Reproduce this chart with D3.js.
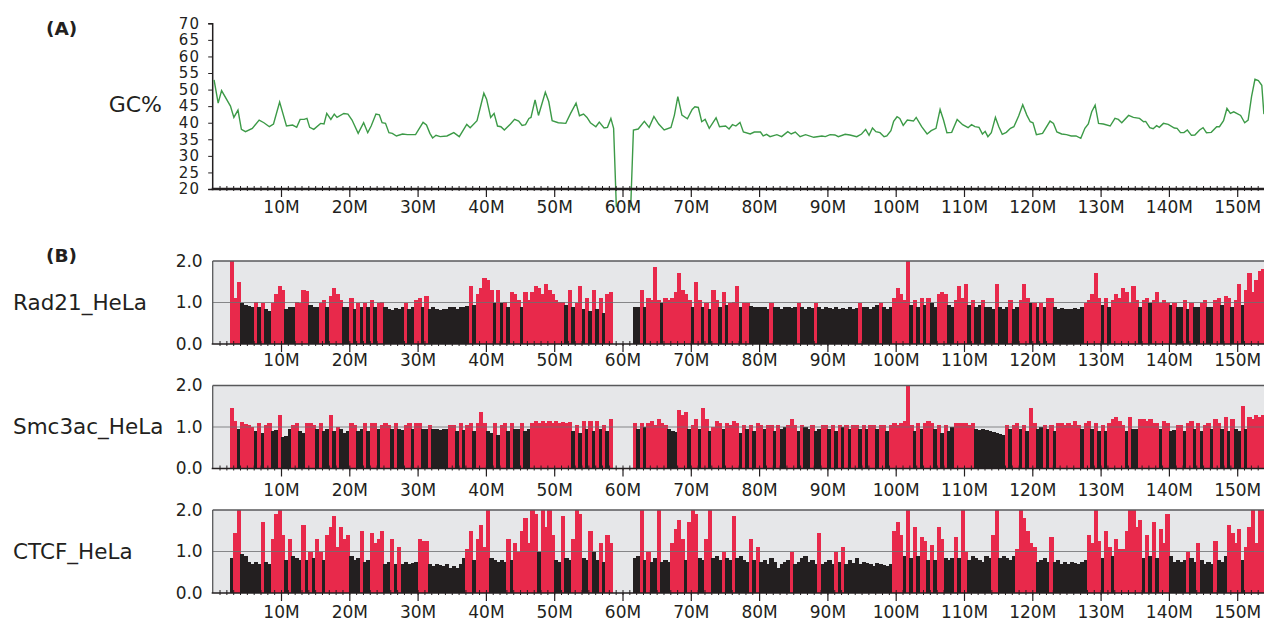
<!DOCTYPE html>
<html><head><meta charset="utf-8">
<script src="https://cdn.jsdelivr.net/npm/d3@7"></script>
<style>
body{margin:0;background:#fff}
svg{display:block}
text{font-family:"DejaVu Sans",sans-serif;fill:#231f20}
</style>
</head><body>
<svg id="c" width="1264" height="622"></svg>
<script>
// ---------- DATA ----------
const xTicks = [10,20,30,40,50,60,70,80,90,100,110,120,130,140,150];
const gcTicks = [20,25,30,35,40,45,50,55,60,65,70];
const trackTicks = [0,1,2];
const trackNames = ["Rad21_HeLa","Smc3ac_HeLa","CTCF_HeLa"];

// GC% line (position in Mb, value in %)
const gcPos = [0.2,0.8,1.3,2.6,3.1,3.7,4.2,4.8,5.8,6.8,7.5,8.3,8.9,9.8,10.8,11.7,12.3,12.8,13.4,13.8,14.2,14.8,15.8,16.3,16.7,17.3,17.8,18.2,19.2,19.8,
20.4,21.3,22.1,22.7,23.2,23.9,24.4,24.8,25.3,25.8,26.3,26.9,27.8,28.5,29.7,30.8,31.3,31.8,32.2,32.7,33.3,34.3,35.3,36.1,37.2,37.7,38.7,39.7,40.1,40.7,
41.2,41.7,42.2,42.7,43.6,44.2,44.8,45.3,45.8,46.3,46.6,47.2,47.7,48.7,49.2,49.7,50.6,51.7,52.4,53.2,53.7,54.3,54.8,55.3,56.1,56.6,57.3,57.8,58.3,58.7,
59.1,60.0,61.2,61.6,62.3,63.2,63.9,64.6,65.3,66.1,67.1,67.6,68.1,68.7,69.5,70.2,70.6,71.1,71.6,72.1,72.7,73.7,74.2,75.1,75.6,76.1,76.6,77.2,77.7,78.7,
79.3,80.2,80.6,81.1,81.6,82.6,83.3,84.2,84.7,85.3,86.0,86.8,88.0,89.2,89.7,90.4,91.1,91.6,92.6,93.3,94.3,95.0,95.6,96.1,96.6,97.1,97.7,98.3,98.7,99.3,
99.7,100.2,100.6,101.1,101.7,102.6,103.0,103.8,104.6,105.2,105.9,106.5,107.0,107.5,108.2,109.0,109.8,110.6,111.1,111.6,112.2,112.7,113.1,113.5,114.0,114.6,115.1,115.6,116.2,116.8,
117.3,118.0,118.6,119.2,119.7,120.1,120.6,121.5,122.6,123.1,123.6,124.3,125.0,125.7,126.4,127.1,127.7,128.2,128.7,129.2,129.7,130.4,131.4,132.1,132.6,133.1,134.1,134.8,135.7,136.3,
136.6,137.2,137.7,138.2,138.6,139.2,139.9,140.8,141.2,141.7,142.2,142.7,143.3,143.8,144.5,145.0,145.5,146.2,147.0,147.4,148.0,148.5,149.0,149.5,150.5,151.1,151.6,152.1,152.6,153.1,
153.6,153.9,155.0];
const gcVal = [52.9,45.9,49.7,45.0,41.6,43.8,38.0,37.3,38.3,40.8,40.0,38.8,39.6,46.2,39.0,39.3,38.6,41.0,41.0,41.3,38.6,38.0,39.8,39.6,42.8,41.0,42.6,41.6,42.8,42.6,
40.8,36.8,40.0,37.0,39.0,42.6,42.4,40.0,39.8,37.0,36.8,36.0,36.6,36.4,36.4,40.1,39.3,36.8,35.4,36.2,35.8,36.0,37.0,35.8,39.5,38.5,40.6,48.9,47.1,41.6,
42.8,39.0,38.8,37.8,39.6,41.0,40.5,39.2,39.4,41.3,41.6,46.9,42.2,49.2,46.4,40.6,40.0,39.8,42.8,45.9,42.1,42.6,41.6,40.0,38.8,40.2,38.4,38.6,41.3,38.3,
14.5,null,14.5,37.8,38.1,40.4,38.6,41.9,39.6,37.8,38.6,42.3,47.9,42.3,41.2,44.0,44.8,44.6,40.3,41.0,38.3,41.5,38.8,39.0,38.1,39.4,39.0,40.1,37.2,36.6,
37.2,37.2,36.0,36.5,35.8,36.4,35.8,37.3,36.6,37.2,35.8,36.4,35.6,36.0,35.8,36.4,36.3,35.8,36.5,36.3,35.8,36.6,38.0,36.2,38.4,37.3,37.0,35.8,36.0,37.6,
40.4,41.8,41.3,39.2,40.8,40.5,41.6,38.8,36.6,37.6,38.3,44.0,40.8,37.0,37.1,41.0,39.4,38.5,39.4,38.8,38.6,36.6,37.4,35.8,37.0,41.6,38.8,36.5,37.1,38.3,
38.8,42.0,45.4,42.3,40.3,40.0,36.4,36.8,40.5,39.8,37.2,36.6,36.4,36.0,36.0,35.3,38.3,39.6,43.3,45.3,39.8,39.6,39.0,41.3,41.0,40.0,42.2,41.6,41.3,40.3,
40.4,38.5,38.2,39.1,38.6,39.8,39.5,38.4,38.3,37.0,37.0,37.8,36.2,36.3,37.8,38.5,37.0,37.1,38.8,38.8,40.6,44.3,42.8,43.3,42.2,40.0,40.8,47.9,53.1,52.7,
51.3,42.8,41.0];

// Enrichment tracks: 0.5 Mb bins starting at 2.5 Mb (null = no data)
const binStart = 2.5, binSize = 0.5;
const rad21 = [2.0,1.1,1.5,0.98,0.95,
0.92,0.9,1.02,0.88,1.0,0.85,0.8,1.0,1.2,1.4,
1.3,0.85,0.9,0.9,1.02,1.0,1.3,1.28,0.95,0.9,
0.88,1.0,1.05,0.9,1.15,1.35,1.2,1.05,0.88,0.9,
1.1,0.85,1.0,0.9,1.0,0.9,1.05,0.88,1.0,1.02,
0.88,0.85,0.82,0.86,0.85,0.88,1.0,0.85,0.9,1.05,
1.1,0.9,1.15,0.85,0.88,0.85,0.82,0.85,0.85,0.88,
0.88,0.85,0.9,0.88,0.92,1.4,0.95,1.2,1.35,1.6,
1.55,1.3,0.98,1.3,1.0,1.02,0.9,1.25,1.2,1.05,
0.9,1.25,1.05,1.25,1.4,1.35,1.2,1.45,1.3,1.2,
1.05,1.02,1.02,0.95,1.3,0.9,1.0,1.4,0.85,1.1,
0.8,1.3,0.85,1.1,0.75,1.2,1.25,null,null,null,
null,null,null,0.9,0.88,1.3,0.9,1.1,1.05,1.85,
1.05,1.0,1.1,1.05,1.1,1.25,1.7,1.3,1.2,1.05,
0.9,1.5,1.05,0.9,1.0,0.85,1.3,1.05,0.9,1.25,
0.95,1.0,1.02,1.4,0.9,1.0,1.0,0.92,0.9,0.88,
0.88,0.9,0.85,1.0,0.88,0.9,0.85,0.88,0.9,0.86,
0.88,1.0,0.9,0.85,0.88,0.86,1.0,0.9,0.85,0.88,
0.86,0.85,0.88,0.84,0.86,0.85,0.88,0.85,0.87,1.0,
0.9,0.88,0.85,0.9,0.95,1.0,0.88,0.85,0.9,1.1,
1.35,1.2,1.05,2.0,0.95,1.05,0.9,1.1,0.95,1.1,
1.0,0.9,1.2,1.25,1.2,0.95,0.9,1.05,1.4,1.1,
1.45,0.95,1.05,0.9,0.95,1.05,0.9,0.88,0.85,1.45,
0.88,0.85,0.9,1.05,0.85,0.88,1.05,1.45,1.1,1.0,
1.0,0.9,1.0,0.88,1.1,1.1,0.9,0.85,0.86,0.85,
0.85,0.84,0.86,0.85,0.88,1.0,1.05,1.2,1.7,1.1,
0.95,1.1,0.9,1.05,1.2,1.1,1.35,1.25,1.0,1.4,
1.05,0.9,1.05,1.1,1.0,1.05,1.25,1.0,1.05,1.0,
0.95,1.0,0.88,0.9,1.05,0.85,1.0,0.88,0.9,1.0,
1.05,0.88,0.9,1.05,1.1,0.95,1.15,1.1,0.9,1.05,
1.45,0.95,1.3,1.7,1.25,1.55,1.75,1.8,1.2,1.3];
const rad21Red = [1,1,1,0,0,
0,0,1,0,1,0,0,1,1,1,
1,0,0,0,1,1,1,1,0,0,
0,1,1,0,1,1,1,1,0,0,
1,0,1,0,1,0,1,0,1,1,
0,0,0,0,0,0,1,0,0,1,
1,0,1,0,0,0,0,0,0,0,
0,0,0,0,0,1,0,1,1,1,
1,1,0,1,0,1,0,1,1,1,
0,1,1,1,1,1,1,1,1,1,
1,1,1,0,1,0,1,1,0,1,
0,1,0,1,0,1,1,0,0,0,
0,0,0,0,0,1,0,1,1,1,
1,0,1,1,1,1,1,1,1,1,
0,1,1,0,1,0,1,1,0,1,
0,1,1,1,0,1,1,0,0,0,
0,0,0,1,0,0,0,0,0,0,
0,1,0,0,0,0,1,0,0,0,
0,0,0,0,0,0,0,0,0,1,
0,0,0,0,0,1,0,0,0,1,
1,1,1,1,0,1,0,1,0,1,
0,0,1,1,1,0,0,1,1,1,
1,0,1,0,0,1,0,0,0,1,
0,0,0,1,0,0,1,1,1,0,
1,0,1,0,1,1,0,0,0,0,
0,0,0,0,0,1,1,1,1,1,
0,1,0,1,1,1,1,1,1,1,
1,0,1,1,0,1,1,1,1,1,
0,1,0,0,1,0,1,0,0,1,
1,0,0,1,1,0,1,1,0,1,
1,0,1,1,1,1,1,1,1,1];

const smc3ac = [1.45,1.15,0.95,1.12,1.08,
1.05,1.0,0.9,1.1,0.85,1.05,1.1,0.9,0.92,1.3,
0.75,0.78,0.95,1.05,1.1,0.9,0.85,1.1,1.1,1.05,
0.95,1.1,0.9,0.95,1.3,0.9,1.0,0.95,0.85,0.9,
1.1,1.05,0.9,0.95,1.1,0.9,1.1,1.1,0.95,1.05,
1.1,1.05,0.95,1.1,0.95,0.92,1.05,1.1,0.95,1.1,
1.1,0.95,0.95,1.05,0.95,0.95,0.92,0.95,0.95,1.05,
1.05,0.9,1.1,0.92,1.05,1.1,0.9,1.1,1.35,1.1,
0.9,0.85,1.1,0.8,1.05,1.1,0.9,1.1,0.95,0.95,
1.1,0.9,0.95,1.1,1.15,1.1,1.15,1.1,1.15,1.1,
1.15,1.1,1.12,1.1,1.12,0.9,1.05,0.85,1.15,0.95,
1.15,0.9,1.15,0.95,1.05,0.9,1.2,null,null,null,
null,null,null,1.1,0.95,1.1,1.0,1.1,1.15,1.05,
1.2,1.1,1.05,0.95,0.9,0.88,1.4,1.3,1.35,0.95,
1.05,1.2,0.95,1.45,1.2,0.9,1.0,1.15,1.1,0.95,
1.1,1.05,1.15,1.1,0.85,1.05,0.95,1.05,0.9,1.1,
1.05,0.95,1.05,1.05,0.9,1.05,0.95,1.0,1.05,1.2,
1.05,0.9,1.05,1.0,0.95,1.05,0.9,0.95,1.05,1.05,
0.95,1.05,0.9,1.05,1.0,1.05,0.95,1.05,1.05,0.95,
1.05,0.95,1.05,1.05,0.95,1.05,1.05,0.9,1.05,1.1,
1.05,1.1,1.15,2.0,1.05,0.9,1.1,0.95,1.1,1.15,
1.1,0.95,1.05,0.85,1.05,0.9,1.0,1.1,1.1,1.1,
1.1,1.05,1.1,0.95,0.92,0.95,0.92,0.9,0.88,0.85,
0.82,0.8,1.05,0.95,1.05,1.1,0.95,1.05,0.9,1.45,
1.1,0.95,1.0,1.05,0.95,1.05,0.9,1.1,1.1,1.05,
1.1,1.05,1.15,1.05,0.95,1.1,1.15,0.95,1.1,0.9,
1.05,0.9,1.1,1.2,1.25,1.15,1.05,0.9,1.25,0.95,
0.95,1.2,1.2,1.15,1.2,1.1,1.1,0.95,1.15,1.1,
0.9,0.92,1.05,1.05,0.9,1.1,1.15,0.95,1.1,0.9,
1.05,1.1,0.95,1.2,1.1,0.95,1.25,0.9,1.2,0.95,
0.9,1.5,0.95,1.25,1.2,1.3,1.25,1.3,1.0,1.0];
const smc3acRed = [1,1,0,1,1,
1,1,0,1,0,1,1,0,0,1,
0,0,0,1,1,0,0,1,1,1,
0,1,0,0,1,0,1,0,0,0,
1,1,0,0,1,0,1,1,0,1,
1,1,0,1,0,0,1,1,0,1,
1,0,0,1,0,0,0,0,0,1,
1,0,1,0,1,1,0,1,1,1,
0,0,1,0,1,1,0,1,0,0,
1,0,0,1,1,1,1,1,1,1,
1,1,1,1,1,0,1,0,1,0,
1,0,1,0,1,0,1,0,0,0,
0,0,0,1,0,1,0,1,1,1,
1,1,1,0,0,0,1,1,1,0,
1,1,0,1,1,0,1,1,1,0,
1,1,1,1,0,1,0,1,0,1,
1,0,1,1,0,1,0,0,1,1,
1,0,1,0,0,1,0,0,1,1,
0,1,0,1,0,1,0,1,1,0,
1,0,1,1,0,1,1,0,1,1,
1,1,1,1,1,0,1,0,1,1,
1,0,1,0,1,0,0,1,1,1,
1,1,1,0,0,0,0,0,0,0,
0,0,1,0,1,1,0,1,0,1,
1,0,0,1,0,1,0,1,1,1,
1,1,1,1,0,1,1,0,1,0,
1,0,1,1,1,1,1,0,1,0,
0,1,1,1,1,1,1,0,1,1,
0,0,1,1,0,1,1,0,1,0,
1,1,0,1,1,0,1,0,1,0,
0,1,0,1,1,1,1,1,0,0];

const ctcf = [0.85,1.45,2.0,0.95,0.9,
0.75,0.7,0.75,0.7,1.7,0.75,0.7,1.3,1.9,2.0,
1.4,0.8,1.3,0.9,0.85,0.8,1.65,0.8,1.0,0.85,
1.3,1.0,0.8,1.4,1.6,1.85,1.1,1.6,1.3,1.4,
0.9,0.8,0.85,1.5,0.75,0.8,1.45,1.2,1.3,1.5,
0.7,0.75,1.3,0.7,1.1,0.7,0.75,0.7,0.72,0.75,
1.3,1.25,1.25,0.7,0.65,0.7,0.68,0.65,0.7,0.6,
0.65,0.6,0.7,0.85,1.05,1.5,0.8,1.3,1.65,1.1,
2.0,0.85,0.8,0.75,0.8,0.75,1.3,0.8,1.2,1.0,
1.5,1.8,1.2,2.0,1.9,1.0,2.0,1.6,2.0,1.4,
0.8,0.75,1.85,0.85,0.8,1.3,2.0,1.9,0.85,0.8,
1.5,1.0,0.8,1.2,0.75,1.4,1.2,null,null,null,
null,null,null,0.85,0.9,2.0,0.8,1.0,0.75,0.85,
2.0,0.75,0.8,0.75,1.2,1.55,1.75,1.3,0.8,1.7,
2.0,1.9,0.85,0.8,1.3,2.0,0.85,0.9,0.8,1.0,
0.85,0.8,1.85,0.85,0.9,0.8,0.75,1.3,0.8,1.1,
0.75,0.8,0.7,0.85,0.75,0.6,0.7,0.75,0.8,1.0,
0.7,0.75,0.85,0.9,0.75,0.8,0.7,1.45,0.7,0.75,
0.8,0.7,1.0,0.75,1.1,0.7,0.8,0.72,0.85,0.7,
0.75,0.72,0.7,0.65,0.72,0.7,0.68,0.65,0.7,1.5,
1.7,1.4,0.9,2.0,0.85,1.6,0.9,1.35,1.25,0.8,
1.15,0.8,1.6,1.3,0.85,0.8,0.85,1.35,0.85,2.0,
1.0,0.8,0.9,0.85,0.8,0.75,0.9,0.85,1.4,2.0,
0.85,0.9,0.85,0.8,0.9,1.05,2.0,1.8,1.5,1.2,
1.1,0.75,0.8,0.85,0.75,1.35,0.75,0.8,0.7,0.75,
0.7,0.75,0.72,0.7,0.75,0.8,1.4,1.2,2.0,1.25,
0.85,1.5,1.1,0.9,1.3,1.05,1.05,1.5,2.0,2.0,
1.6,1.75,0.85,1.4,0.9,1.7,0.85,1.55,1.2,1.9,
0.9,0.75,0.8,0.75,0.8,1.0,0.85,0.75,1.2,0.8,
0.7,0.75,0.7,1.25,0.8,0.75,0.9,1.65,1.45,1.2,
1.55,0.8,1.1,1.6,2.0,1.2,2.0,2.0,2.0,1.5];
const ctcfRed = [0,1,1,0,0,
0,0,0,0,1,0,0,1,1,1,
1,0,1,0,0,0,1,0,1,0,
1,1,0,1,1,1,1,1,1,1,
0,0,0,1,0,0,1,1,1,1,
0,0,1,0,1,0,0,0,0,0,
1,1,1,0,0,0,0,0,0,0,
0,0,0,0,1,1,0,1,1,1,
1,0,0,0,0,0,1,0,1,1,
1,1,1,1,1,0,1,1,1,1,
0,0,1,0,0,1,1,1,0,0,
1,0,0,1,0,1,1,0,0,0,
0,0,0,0,0,1,0,1,0,0,
1,0,0,0,1,1,1,1,0,1,
1,1,0,0,1,1,0,0,0,1,
0,0,1,0,0,0,0,1,0,1,
0,0,0,0,0,0,0,0,0,1,
0,0,0,0,0,0,0,1,0,0,
0,0,1,0,1,0,0,0,0,0,
0,0,0,0,0,0,0,0,0,1,
1,1,0,1,0,1,0,1,1,0,
1,0,1,1,0,0,0,1,0,1,
1,0,0,0,0,0,0,0,1,1,
0,0,0,0,0,1,1,1,1,1,
1,0,0,0,0,1,0,0,0,0,
0,0,0,0,0,0,1,1,1,1,
0,1,1,0,1,1,1,1,1,1,
1,1,0,1,0,1,0,1,1,1,
0,0,0,0,0,1,0,0,1,0,
0,0,0,1,0,0,0,1,1,1,
1,0,1,1,1,1,1,1,1,1];

// ---------- DRAW ----------
const RED = "#e8294b", BLACK = "#231f20";
const svg = d3.select("#c");
const x0 = 212.7, pxPerMb = 6.83;
const x = d3.scaleLinear().domain([0,155.3]).range([x0, x0 + 155.3*pxPerMb]);
const xEnd = 1264;

function xAxis(g, yPos, lw, labelOff) {
  const minor = g.append("g").attr("transform", `translate(0,${yPos-3})`)
    .call(d3.axisBottom(x).tickValues(d3.range(1,156)).tickSize(5).tickFormat(""));
  minor.select(".domain").remove();
  minor.selectAll("line").attr("stroke", "#231f20").attr("stroke-width", 1);
  const major = g.append("g").attr("transform", `translate(0,${yPos})`)
    .call(d3.axisBottom(x).tickValues(xTicks).tickSize(8).tickPadding(labelOff).tickFormat(d => d + "M"));
  major.select(".domain").remove();
  major.selectAll("line").attr("stroke", "#231f20").attr("stroke-width", 1.2);
  major.selectAll("text").attr("font-size", 17).attr("font-family", "DejaVu Sans").attr("fill", "#231f20");
  g.append("line").attr("x1", x0 - 1).attr("x2", xEnd).attr("y1", yPos).attr("y2", yPos)
    .attr("stroke", "#231f20").attr("stroke-width", lw);
}

// ---- Panel A ----
const gA = svg.append("g");
gA.append("text").attr("x", 46).attr("y", 35).attr("font-size", 18.5).attr("font-weight", "bold").text("(A)");
gA.append("text").attr("x", 162).attr("y", 112).attr("text-anchor", "end").attr("font-size", 22).text("GC%");
const yGC = d3.scaleLinear().domain([20,70]).range([189,23.3]);
const yAx = gA.append("g").attr("transform", `translate(${x0-0.5},0)`)
  .call(d3.axisLeft(yGC).tickValues(gcTicks).tickSize(4).tickPadding(8));
yAx.select(".domain").attr("stroke", "#231f20").attr("stroke-width", 1.5);
yAx.selectAll("line").attr("stroke", "#231f20");
yAx.selectAll("text").attr("font-size", 15).attr("letter-spacing", 1.2).attr("font-family", "DejaVu Sans").attr("fill", "#231f20");
const gcPts = gcPos.map((p, i) => [p, gcVal[i]]);
gA.append("path").datum(gcPts)
  .attr("d", d3.line().defined(d => d[1] != null).x(d => x(d[0])).y(d => yGC(d[1])))
  .attr("fill", "none").attr("stroke", "#3c9a47").attr("stroke-width", 1.4);
xAxis(gA, 189, 2.5, 4);

// ---- Panel B ----
svg.append("text").attr("x", 46).attr("y", 262).attr("font-size", 18.5).attr("font-weight", "bold").text("(B)");
const tracks = [
  {name: trackNames[0], vals: rad21, red: rad21Red, base: 344, lab: 2},
  {name: trackNames[1], vals: smc3ac, red: smc3acRed, base: 468.5, lab: 7},
  {name: trackNames[2], vals: ctcf, red: ctcfRed, base: 593, lab: 5}
];
const bw = x(binSize) - x(0);
tracks.forEach(t => {
  const g = svg.append("g");
  const y = d3.scaleLinear().domain([0,2]).range([t.base, t.base - 83]);
  g.append("rect").attr("x", x0).attr("y", y(2)).attr("width", xEnd - x0).attr("height", t.base - y(2)).attr("fill", "#e6e7e9");
  const bins = t.vals.map((v, i) => ({s: binStart + i*binSize, v, r: t.red[i]})).filter(d => d.v != null);
  g.selectAll("rect.bar").data(bins).join("rect").attr("class", "bar")
    .attr("x", d => x(d.s)).attr("width", bw + 0.8)
    .attr("y", d => y(d.v)).attr("height", d => t.base - y(d.v))
    .attr("fill", d => d.r ? RED : BLACK)
    .attr("shape-rendering", "crispEdges");
  g.append("line").attr("x1", x0).attr("x2", xEnd).attr("y1", y(1)).attr("y2", y(1))
    .attr("stroke", "#6d6e70").attr("stroke-width", 1).attr("opacity", 0.8);
  g.append("line").attr("x1", x0).attr("x2", xEnd).attr("y1", y(2)).attr("y2", y(2))
    .attr("stroke", "#58595b").attr("stroke-width", 1.3);
  g.append("line").attr("x1", x0).attr("x2", x0).attr("y1", y(2)).attr("y2", t.base)
    .attr("stroke", "#58595b").attr("stroke-width", 1.3);
  const ya = g.append("g").attr("transform", `translate(${x0},0)`)
    .call(d3.axisLeft(y).tickValues(trackTicks).tickSize(0).tickPadding(10).tickFormat(d3.format(".1f")));
  ya.select(".domain").remove();
  ya.selectAll("text").attr("font-size", 17).attr("font-family", "DejaVu Sans").attr("fill", "#231f20");
  g.append("text").attr("x", 13).attr("y", y(1) + 7).attr("font-size", 21.5).text(t.name);
  xAxis(g, t.base, 1.5, t.lab);
});
</script>
</body></html>
